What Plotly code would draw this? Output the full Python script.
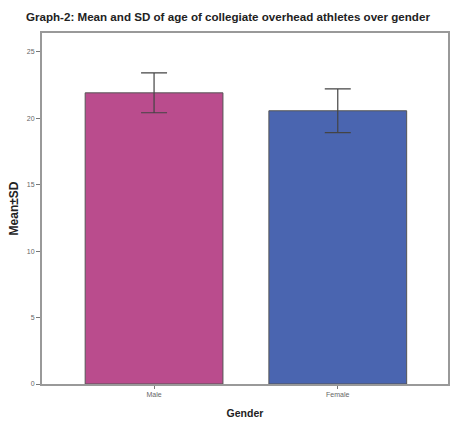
import plotly.graph_objects as go

# Age summary by gender
genders = ["Male", "Female"]
mean_age = [21.9, 20.55]
sd_age = [1.5, 1.65]
bar_colors = ["#BA4C8D", "#4A65B0"]

FONT = "Liberation Sans, Arial, sans-serif"

fig = go.Figure()
fig.add_trace(go.Bar(
    x=genders,
    y=mean_age,
    width=0.75,
    marker=dict(color=bar_colors, line=dict(color="#555555", width=1)),
    error_y=dict(type="data", array=sd_age, visible=True,
                 color="#444444", thickness=1.2, width=13),
    showlegend=False,
))

axis_font = dict(family=FONT, size=7, color="#666666")

fig.update_layout(
    width=452, height=421,
    margin=dict(l=42, r=2, t=33, b=37),
    paper_bgcolor="white",
    plot_bgcolor="white",
    title=dict(
        text="<b>Graph-2: Mean and SD of age of collegiate overhead athletes over gender</b>",
        x=0.458, xref="paper", xanchor="center",
        y=1 - 17 / 421, yref="container", yanchor="middle",
        font=dict(family=FONT, size=11.6, color="#222222"),
    ),
    xaxis=dict(
        range=[-0.61, 1.6],
        showline=True, linecolor="#999999", linewidth=2, mirror=True,
        ticks="outside", ticklen=3, tickcolor="#777777",
        tickfont=axis_font,
        title=dict(text="<b>Gender</b>", font=dict(family=FONT, size=10.5, color="#222222"), standoff=12),
        showgrid=False,
    ),
    yaxis=dict(
        range=[0, 26.4],
        tickvals=[0, 5, 10, 15, 20, 25],
        showline=True, linecolor="#999999", linewidth=2, mirror=True,
        ticks="outside", ticklen=4, tickcolor="#777777",
        tickfont=axis_font,
        title=dict(text="<b>Mean±SD</b>", font=dict(family=FONT, size=12, color="#222222"), standoff=6),
        showgrid=False, zeroline=False,
    ),
)

fig.write_html("out.html")
